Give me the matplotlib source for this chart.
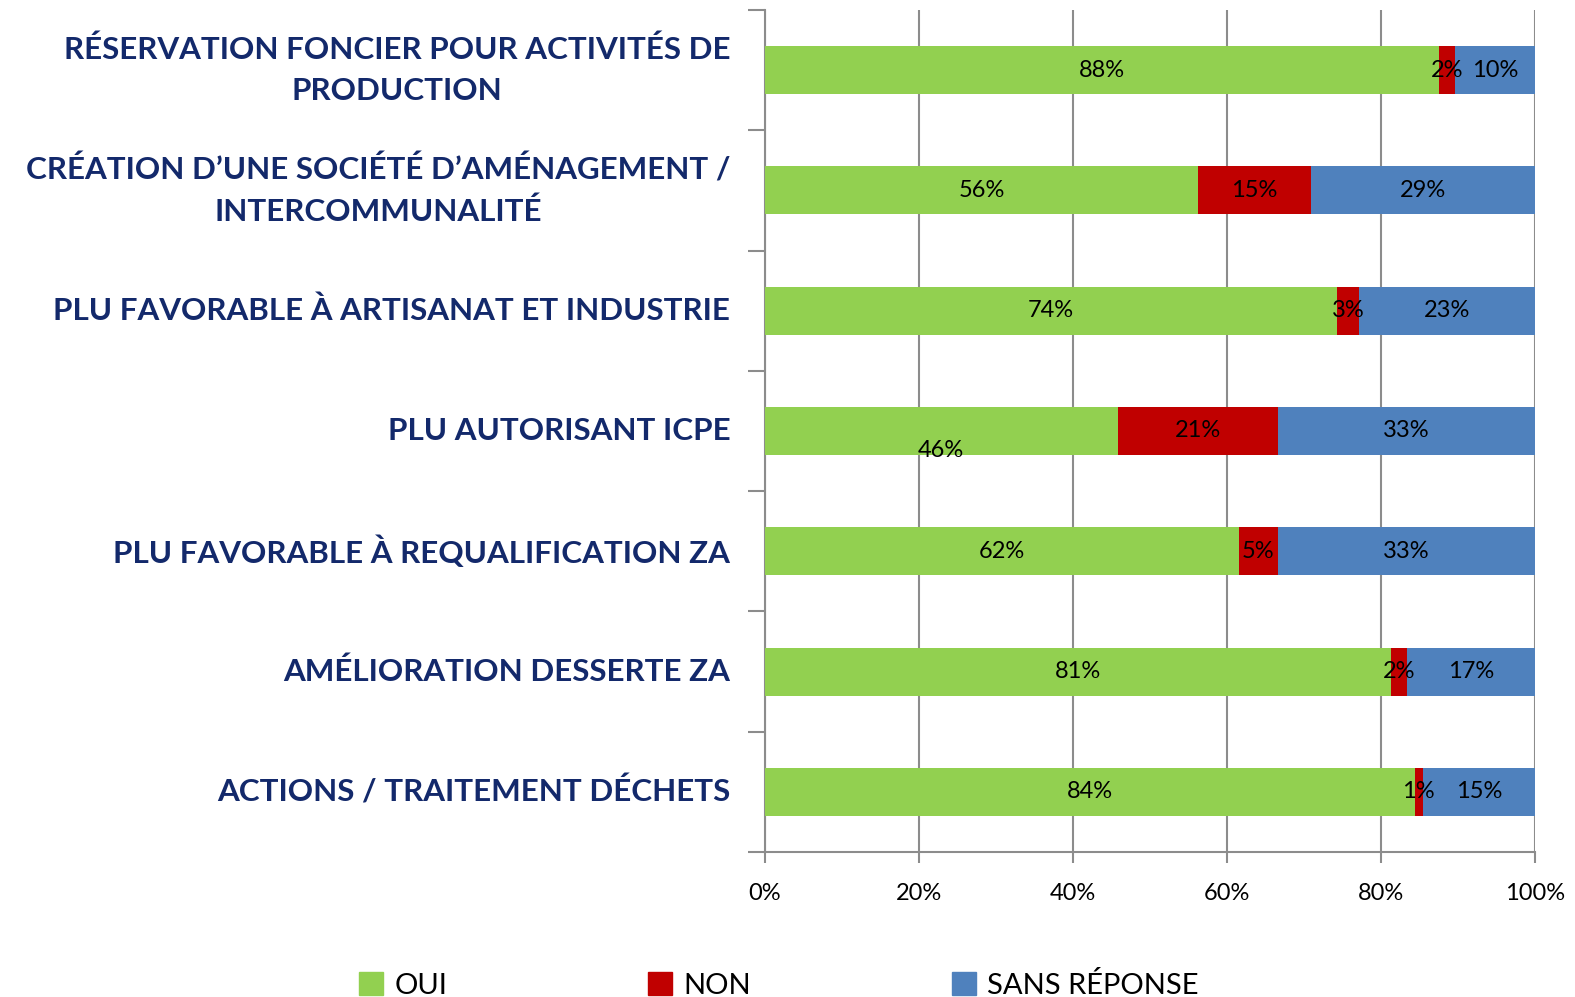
import numpy as np
import matplotlib.pyplot as plt
from matplotlib.patches import Patch

# Données (pourcentages)
categories = [
    "RÉSERVATION FONCIER POUR ACTIVITÉS DE\nPRODUCTION",
    "CRÉATION D’UNE SOCIÉTÉ D’AMÉNAGEMENT /\nINTERCOMMUNALITÉ",
    "PLU FAVORABLE À ARTISANAT ET INDUSTRIE",
    "PLU AUTORISANT ICPE",
    "PLU FAVORABLE À REQUALIFICATION ZA",
    "AMÉLIORATION DESSERTE ZA",
    "ACTIONS / TRAITEMENT DÉCHETS",
]
oui = [87.5, 56.25, 74.3, 45.8, 61.5, 81.25, 84.4]
non = [2.1, 14.6, 2.9, 20.8, 5.1, 2.1, 1.0]
sans_reponse = [10.4, 29.15, 22.8, 33.4, 33.4, 16.65, 14.6]
series_names = ["OUI", "NON", "SANS RÉPONSE"]
colors = ["#92D050", "#C00000", "#4F81BD"]

plt.rcParams['font.family'] = ['Lato', 'DejaVu Sans']

fig = plt.figure(figsize=(15.75, 9.97), dpi=100)
ax = fig.add_axes([765 / 1575, 1 - 852 / 997, 770 / 1575, 842 / 997])

y = np.arange(len(categories))
left = np.zeros(len(categories))
for vals, col in zip([oui, non, sans_reponse], colors):
    vals = np.array(vals)
    ax.barh(y, vals, left=left, height=0.4, color=col, zorder=3)
    for i, v in enumerate(vals):
        # l'étiquette 46% est décalée vers le bas dans l'original
        dy = 0.16 if (col == colors[0] and i == 3) else 0
        ax.text(left[i] + v / 2, y[i] + dy, f"{v:.0f}%", ha='center', va='center',
                fontsize=17, color='black', zorder=4)
    left += vals

ax.set_xlim(0, 100)
ax.set_ylim(len(categories) - 0.5, -0.5)
ax.set_xticks(np.arange(0, 101, 20))
ax.set_xticklabels([f"{t}%" for t in range(0, 101, 20)], fontsize=17)
ax.xaxis.grid(True, color='#8C8C8C', linewidth=1.5, zorder=0)
ax.set_axisbelow(True)

ax.set_yticks(y)
ax.set_yticklabels([])
ax.tick_params(axis='y', which='major', length=0)
ax.set_yticks(np.arange(-0.5, len(categories), 1), minor=True)
ax.tick_params(axis='y', which='minor', length=12, width=1.5, color='#8C8C8C')
ax.tick_params(axis='x', length=8, width=1.5, color='#8C8C8C', pad=14)

for s in ['top', 'right']:
    ax.spines[s].set_visible(False)
for s in ['left', 'bottom']:
    ax.spines[s].set_color('#8C8C8C')
    ax.spines[s].set_linewidth(1.5)

for i, cat in enumerate(categories):
    ax.text(-4.5, y[i], cat, ha='right', va='center', multialignment='center',
            fontsize=22.6, fontweight='bold', color='#13296B', linespacing=1.55,
            transform=ax.transData, clip_on=False)

handles = [Patch(color=c) for c in colors]
fig.legend(handles, series_names, loc='lower left', bbox_to_anchor=(333 / 1575, -0.028),
           ncol=3, frameon=False, fontsize=21, handlelength=0.8, handleheight=0.8,
           handletextpad=0.4, columnspacing=6.9)

plt.savefig("out.png", dpi=100)
